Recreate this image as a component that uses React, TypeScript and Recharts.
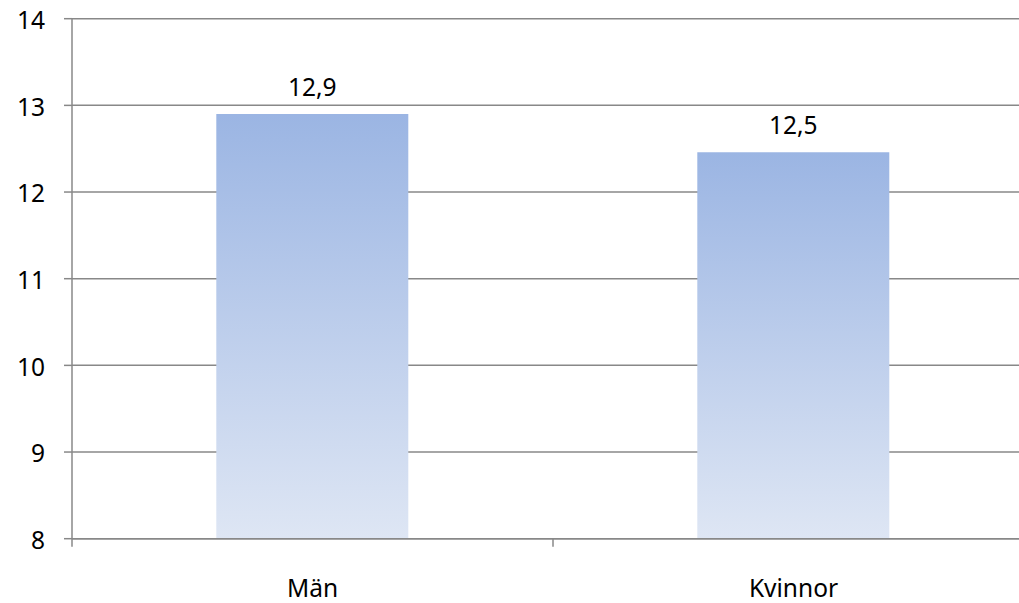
import React from "react";
import { BarChart, Bar, XAxis, YAxis, CartesianGrid, LabelList } from "recharts";

const categories = ["Män", "Kvinnor"];
const values = [12.9, 12.46];
const yTicks = [8, 9, 10, 11, 12, 13, 14];

const data = categories.map((name, i) => ({ name, value: values[i] }));

const W = 1019;
const H = 603;
const LEFT = 72;
const RIGHT = -15; // plot area runs past the right edge
const PLOT_W = W - LEFT - RIGHT;
const HALF_BAND = PLOT_W / categories.length / 2;
const AXIS = "#888888";
const FONT = "'Noto Sans', 'Liberation Sans', sans-serif";
const FS = 24.5;

const XTick = (props: any) => {
  const { x, y, payload, index } = props;
  const top = y - 8;
  return (
    <g>
      <line x1={x - HALF_BAND} x2={x - HALF_BAND} y1={top} y2={top + 8} stroke={AXIS} strokeWidth={1.5} />
      {index === categories.length - 1 && (
        <line x1={x + HALF_BAND} x2={x + HALF_BAND} y1={top} y2={top + 8} stroke={AXIS} strokeWidth={1.5} />
      )}
      <text x={x} y={top + 58} textAnchor="middle" fontSize={FS} fill="#000" fontFamily={FONT}>
        {payload.value}
      </text>
    </g>
  );
};

export default function App() {
  return (
    <div style={{ position: "absolute", left: 0, top: 0, width: W, height: H, background: "#fff" }}>
      <BarChart
        width={W}
        height={H}
        data={data}
        margin={{ top: 18.7, right: RIGHT, bottom: 0, left: 0 }}
        barCategoryGap="30%"
      >
        <defs>
          <linearGradient id="barGrad" x1="0" y1="0" x2="0" y2="1">
            <stop offset="0%" stopColor="#9BB5E3" />
            <stop offset="100%" stopColor="#DEE6F4" />
          </linearGradient>
        </defs>
        <CartesianGrid vertical={false} stroke={AXIS} strokeWidth={1.5} />
        <XAxis
          dataKey="name"
          height={64.3}
          axisLine={{ stroke: AXIS, strokeWidth: 1.5 }}
          tickLine={false}
          tick={<XTick />}
          interval={0}
        />
        <YAxis
          width={LEFT}
          domain={[8, 14]}
          ticks={yTicks}
          interval={0}
          tickSize={8}
          tickMargin={19}
          axisLine={{ stroke: AXIS, strokeWidth: 1.5 }}
          tickLine={{ stroke: AXIS, strokeWidth: 1.5 }}
          tick={{ fontSize: FS, fill: "#000", fontFamily: FONT, dy: 1.5 }}
        />
        <Bar dataKey="value" fill="url(#barGrad)" isAnimationActive={false}>
          <LabelList
            dataKey="value"
            position="top"
            offset={18}
            formatter={(v: any) => Number(v).toFixed(1).replace(".", ",")}
            style={{ fontSize: FS, fill: "#000", fontFamily: FONT }}
          />
        </Bar>
      </BarChart>
    </div>
  );
}
